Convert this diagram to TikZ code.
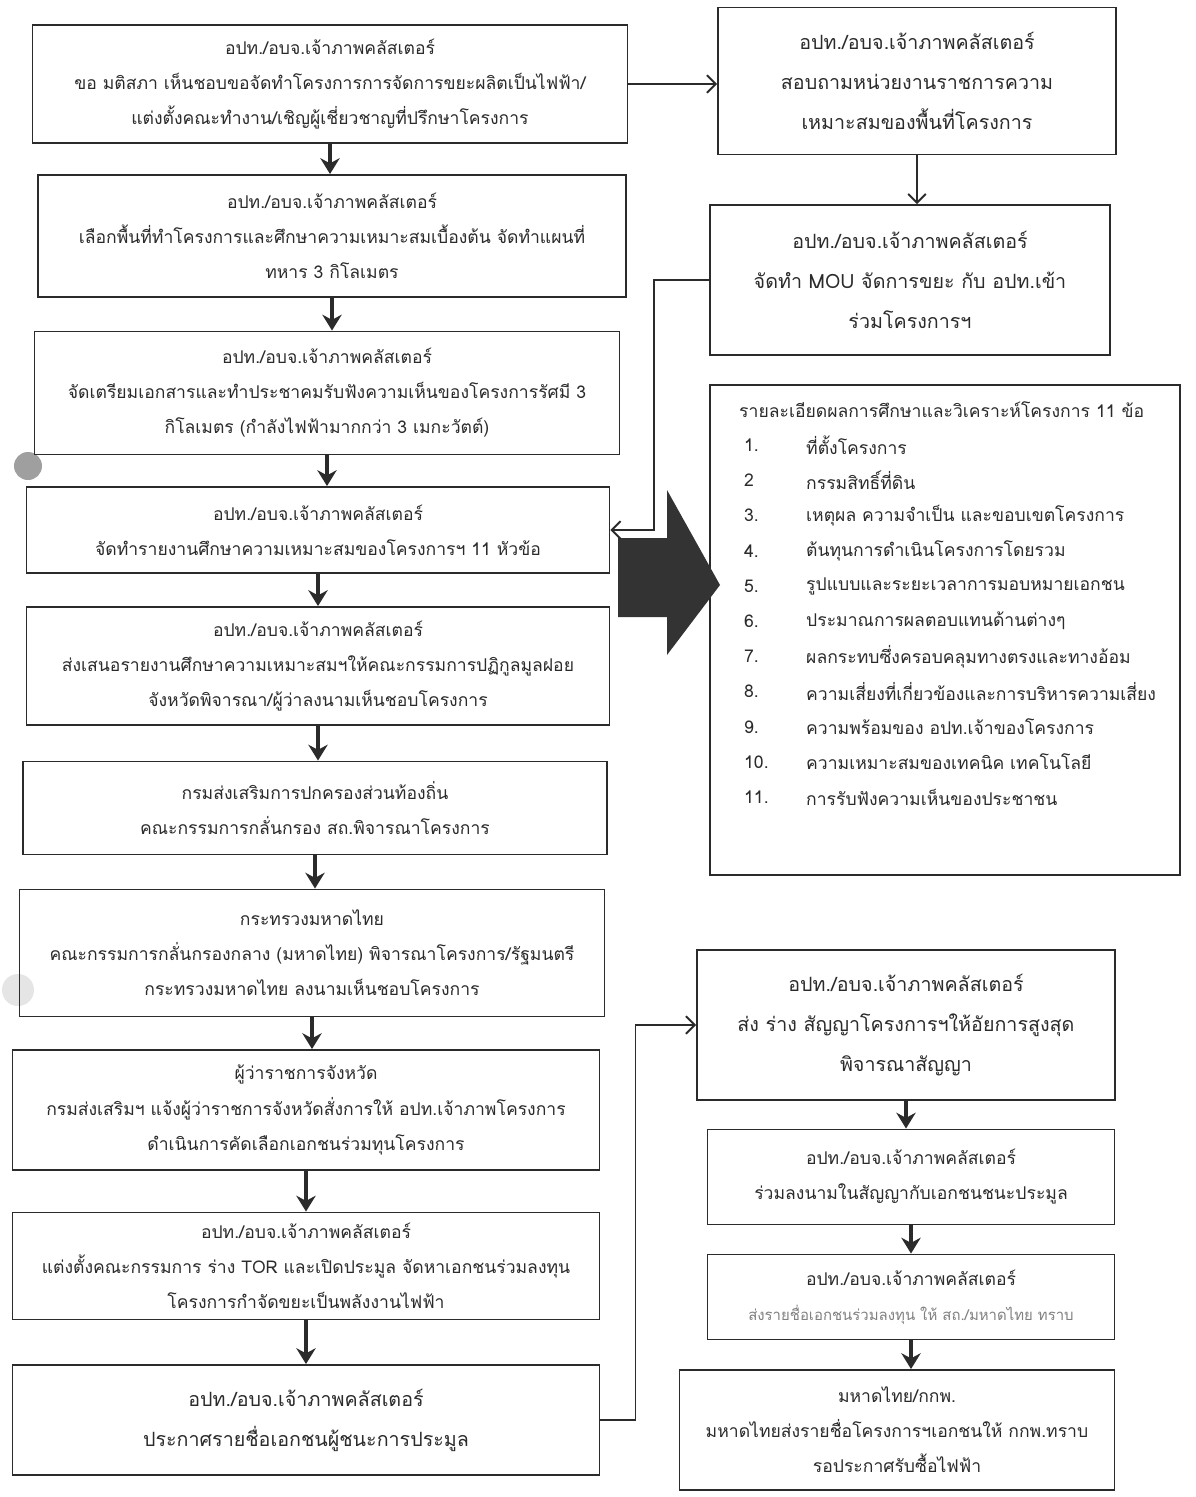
\documentclass[tikz,border=0pt]{standalone}
\usepackage{fontspec}
\setmainfont{Loma}[Script=Thai]
\usetikzlibrary{arrows.meta}
\definecolor{ink}{HTML}{2B2B2B}
\definecolor{blockgray}{HTML}{333333}
\newcommand\smtxt{\fontsize{10}{20}\selectfont}
\newcommand\bgtxt{\fontsize{11.2}{22.7}\selectfont}
\newcommand\tinytxt{\fontsize{8.5}{16}\selectfont}

\begin{document}
\begin{tikzpicture}[x=0.02cm,y=-0.02cm,
  stepbox/.style={draw=ink,line width=1.1pt,align=center,inner sep=2pt,text=ink,font=\smtxt},
  bigbox/.style={stepbox,font=\bgtxt},
  boxsize/.style 2 args={minimum width=#1*0.02cm,minimum height=#2*0.02cm},
  flow/.style={draw=ink,line width=1.8pt,-{Stealth[length=9pt,width=11pt]}},
  link/.style={draw=ink,line width=1.1pt,-{Straight Barb[length=5pt,width=10pt]}}]
\def\hdr{อปท./อบจ.เจ้าภาพคลัสเตอร์};
\def\numx{738};
\def\itemx{800};

\useasboundingbox[fill=white] (0,0) rectangle (1196,1497);

% punch-hole marks of the scan
\fill[gray!75] (28,466) circle (14);
\fill[gray!20] (18,990) circle (16);

% left column
\node[stepbox,boxsize={595}{118}] (b1) at (330,84) {\hdr\\ขอ มติสภา เห็นชอบขอจัดทำโครงการการจัดการขยะผลิตเป็นไฟฟ้า/\\แต่งตั้งคณะทำงาน/เชิญผู้เชี่ยวชาญที่ปรึกษาโครงการ};
\node[stepbox,boxsize={588}{122}] (b2) at (332,236) {\hdr\\เลือกพื้นที่ทำโครงการและศึกษาความเหมาะสมเบื้องต้น  จัดทำแผนที่\\ทหาร 3 กิโลเมตร};
\node[stepbox,boxsize={585}{123}] (b3) at (327,393) {\hdr\\จัดเตรียมเอกสารและทำประชาคมรับฟังความเห็นของโครงการรัศมี  3\\กิโลเมตร (กำลังไฟฟ้ามากกว่า 3 เมกะวัตต์)};
\node[stepbox,boxsize={583}{86}] (b4) at (318,530) {\hdr\\จัดทำรายงานศึกษาความเหมาะสมของโครงการฯ  11 หัวข้อ};
\node[stepbox,boxsize={583}{118}] (b5) at (318,666) {\hdr\\ส่งเสนอรายงานศึกษาความเหมาะสมฯให้คณะกรรมการปฏิกูลมูลฝอย\\จังหวัดพิจารณา/ผู้ว่าลงนามเห็นชอบโครงการ};
\node[stepbox,boxsize={584}{93}] (b6) at (315,808) {กรมส่งเสริมการปกครองส่วนท้องถิ่น\\คณะกรรมการกลั่นกรอง  สถ.พิจารณาโครงการ};
\node[stepbox,boxsize={585}{127}] (b7) at (312,953) {กระทรวงมหาดไทย\\คณะกรรมการกลั่นกรองกลาง  (มหาดไทย) พิจารณาโครงการ/รัฐมนตรี\\กระทรวงมหาดไทย ลงนามเห็นชอบโครงการ};
\node[stepbox,boxsize={587}{120}] (b8) at (306,1110) {ผู้ว่าราชการจังหวัด\\กรมส่งเสริมฯ แจ้งผู้ว่าราชการจังหวัดสั่งการให้  อปท.เจ้าภาพโครงการ\\ดำเนินการคัดเลือกเอกชนร่วมทุนโครงการ};
\node[stepbox,boxsize={587}{107}] (b9) at (306,1266) {\hdr\\แต่งตั้งคณะกรรมการ ร่าง TOR และเปิดประมูล จัดหาเอกชนร่วมลงทุน\\โครงการกำจัดขยะเป็นพลังงานไฟฟ้า};
\node[bigbox,boxsize={587}{110}] (b10) at (306,1420) {\hdr\\ประกาศรายชื่อเอกชนผู้ชนะการประมูล};

% right column
\node[bigbox,boxsize={398}{147}] (r1) at (917,81) {\hdr\\สอบถามหน่วยงานราชการความ\\เหมาะสมของพื้นที่โครงการ};
\node[bigbox,boxsize={400}{150}] (r2) at (910,280) {\hdr\\จัดทำ MOU จัดการขยะ กับ อปท.เข้า\\ร่วมโครงการฯ};
\node[stepbox,boxsize={470}{490}] (list) at (945,630) {};
\node[bigbox,boxsize={418}{150}] (r3) at (906,1025) {\hdr\\ส่ง ร่าง สัญญาโครงการฯให้อัยการสูงสุด\\พิจารณาสัญญา};
\node[stepbox,boxsize={407}{95}] (r4) at (911,1177) {\hdr\\ร่วมลงนามในสัญญากับเอกชนชนะประมูล};
\node[stepbox,boxsize={407}{85}] (r5) at (911,1297) {\hdr\\{\tinytxt\color{gray}ส่งรายชื่อเอกชนร่วมลงทุน ให้ สถ./มหาดไทย ทราบ}};
\node[stepbox,boxsize={435}{120}] (r6) at (897,1430) {มหาดไทย/กกพ.\\มหาดไทยส่งรายชื่อโครงการฯเอกชนให้ กกพ.ทราบ\\รอประกาศรับซื้อไฟฟ้า};

% list of 11 topics
\node[anchor=west,text=ink,font=\smtxt] (ltitle) at (733,410) {รายละเอียดผลการศึกษาและวิเคราะห์โครงการ  11 ข้อ};
\foreach \n/\t [count=\i] in {1./ที่ตั้งโครงการ,2/กรรมสิทธิ์ที่ดิน,3./เหตุผล ความจำเป็น และขอบเขตโครงการ,4./ต้นทุนการดำเนินโครงการโดยรวม,5./รูปแบบและระยะเวลาการมอบหมายเอกชน,6./ประมาณการผลตอบแทนด้านต่างๆ,7./ผลกระทบซึ่งครอบคลุมทางตรงและทางอ้อม,8./ความเสี่ยงที่เกี่ยวข้องและการบริหารความเสี่ยง,9./ความพร้อมของ อปท.เจ้าของโครงการ,10./ความเหมาะสมของเทคนิค เทคโนโลยี,11./การรับฟังความเห็นของประชาชน}{
  \node[anchor=west,text=ink,font=\smtxt] (num\i) at (\numx,410+\i*35.2) {\n};
  \node[anchor=west,text=ink,font=\smtxt] (item\i) at (\itemx,410+\i*35.2) {\t};
}

% big block arrow towards the list
\fill[blockgray] (618,538) -- (667,538) -- (667,490) -- (720,585) -- (667,655) -- (667,617) -- (618,617) -- cycle;

% down arrows
\foreach \a/\b in {b1/b2,b2/b3,b3/b4,b4/b5,b5/b6,b6/b7,b7/b8,b8/b9,b9/b10,r3/r4,r4/r5,r5/r6}
  \draw[flow] (\a.south) -- (\a.south |- \b.north);

% side links
\draw[link] (b1.east) -- (b1.east -| r1.west);
\draw[link] (r1.south) -- (r1.south |- r2.north);
\draw[link] (r2.west) -- ++(-55,0) |- (b4.east);
\draw[link] (b10.east) -- ++(35,0) |- (r3.west);

\end{tikzpicture}
\end{document}
